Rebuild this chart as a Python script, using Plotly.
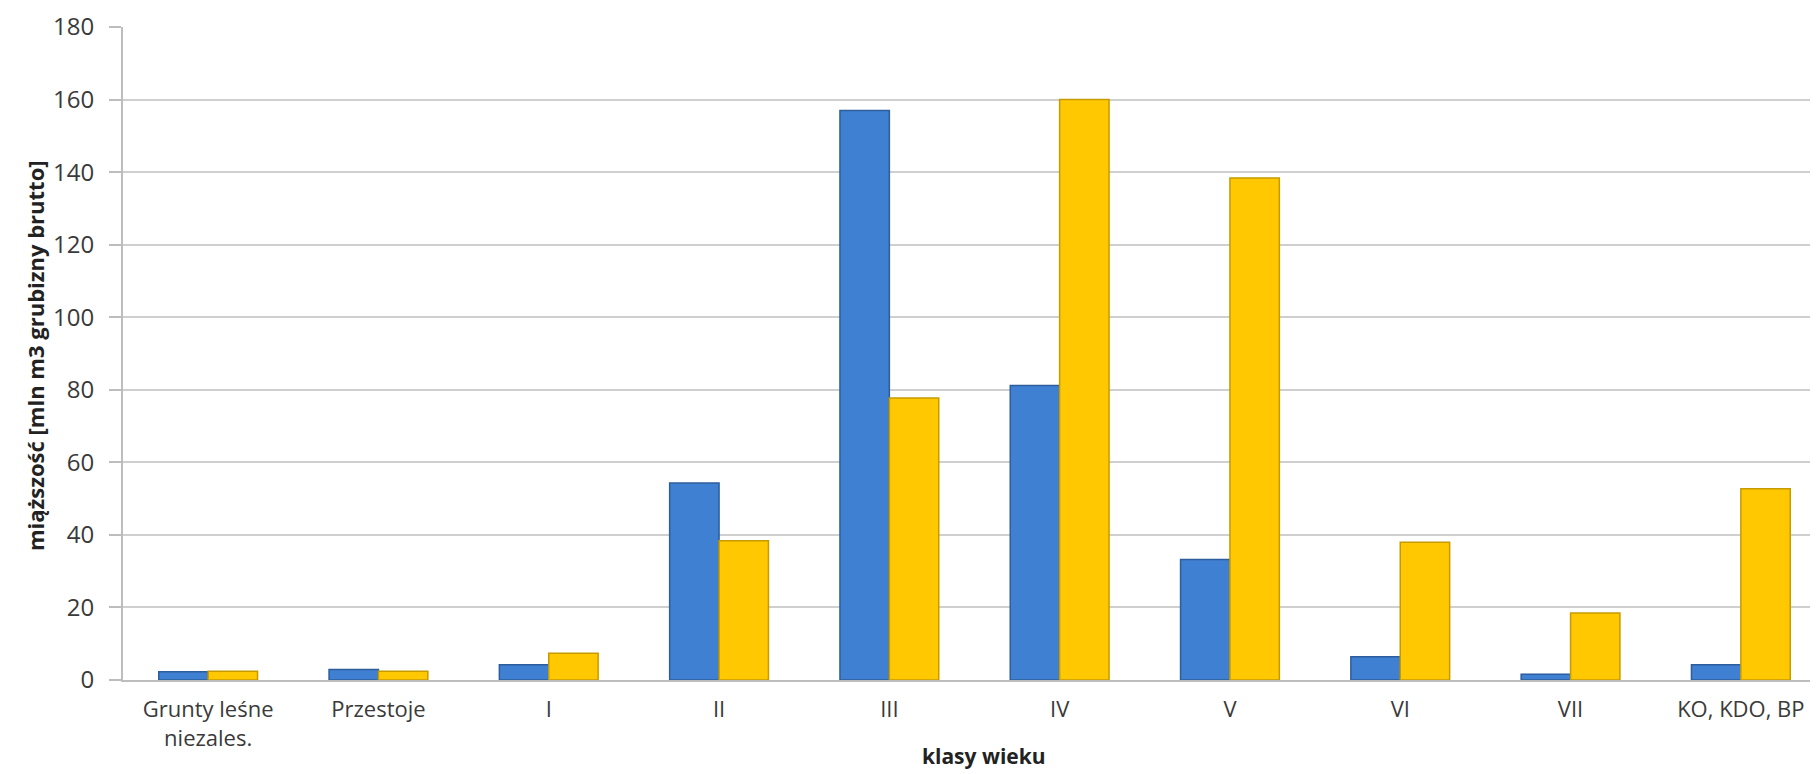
import plotly.graph_objects as go

categories = ["Grunty leśne<br>niezales.", "Przestoje", "I", "II", "III", "IV", "V", "VI", "VII", "KO, KDO, BP"]
series_blue = [2.3, 2.9, 4.2, 54.3, 157.0, 81.2, 33.2, 6.4, 1.6, 4.2]
series_yellow = [2.4, 2.4, 7.4, 38.4, 77.7, 160.0, 138.4, 38.0, 18.5, 52.7]
y_ticks = [0, 20, 40, 60, 80, 100, 120, 140, 160, 180]
x_title = "klasy wieku"
y_title = "miąższość [mln m3 grubizny brutto]"

font_family = "Open Sans, Liberation Sans, DejaVu Sans, sans-serif"

fig = go.Figure()
fig.add_trace(go.Bar(
    x=categories, y=series_blue, name="seria 1",
    marker=dict(color="#4080D2", line=dict(color="#2C5D9C", width=1.5)),
))
fig.add_trace(go.Bar(
    x=categories, y=series_yellow, name="seria 2",
    marker=dict(color="#FFC800", line=dict(color="#C79B00", width=1.5)),
))

fig.update_layout(
    width=1818, height=774,
    margin=dict(l=115, r=0, t=19, b=102, autoexpand=False),
    barmode="group", bargap=0.42, bargroupgap=0.0,
    plot_bgcolor="white", paper_bgcolor="white",
    showlegend=False,
    font=dict(family=font_family, size=22, color="#3A3A3A"),
)
fig.update_xaxes(
    showgrid=False, showline=True, linecolor="#BDBDBD", linewidth=2,
    ticks="", tickfont=dict(size=22, color="#3A3A3A"),
    ticklabelstandoff=9,
)
fig.update_yaxes(
    range=[0, 180], tickvals=y_ticks,
    showgrid=True, gridcolor="#CFCFCF", gridwidth=1.5,
    showline=True, linecolor="#BDBDBD", linewidth=2,
    ticks="outside", ticklen=12, tickcolor="#BDBDBD", tickwidth=1.5,
    tickfont=dict(size=24, color="#3A3A3A"),
    ticklabelstandoff=10,
    zeroline=False,
)
fig.add_annotation(
    text="<b>" + x_title + "</b>", xref="paper", yref="paper",
    x=(976 - 115) / 1703, y=(672 - 748) / 653, xanchor="center", yanchor="middle",
    showarrow=False, font=dict(size=21, color="#222222"),
    borderpad=0,
)
fig.add_annotation(
    text="<b>" + y_title + "</b>", xref="paper", yref="paper",
    x=(27 - 115) / 1703, y=(672 - 348) / 653, xanchor="center", yanchor="middle",
    textangle=-90, showarrow=False, font=dict(size=22, color="#222222"),
)

fig.write_html("out.html")
